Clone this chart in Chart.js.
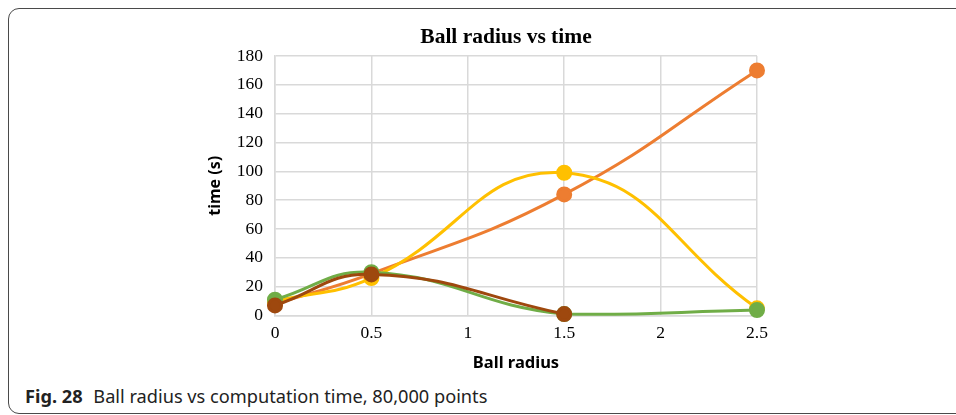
<!DOCTYPE html>
<html>
<head>
<meta charset="utf-8">
<script src="https://cdn.jsdelivr.net/npm/chart.js@4"></script>
<style>
    html, body { margin: 0; padding: 0; background: #fff; }
    body { width: 956px; height: 415px; position: relative; overflow: hidden; }
    #frame {
        position: absolute; left: 8px; top: 8px; width: 1000px; height: 404px;
        border: 1.3px solid #4a4a4a; border-radius: 11px;
    }
    #wrap { position: absolute; left: 0; top: 0; width: 956px; height: 380px; }
    #caption {
        position: absolute; left: 25px; top: 384px;
        font-family: "Noto Sans", sans-serif; font-size: 18.2px; color: #222;
        white-space: nowrap;
    }
    #caption b { margin-right: 6px; }
</style>
</head>
<body>
<div id="frame"></div>
<div id="wrap"><canvas id="ballChart"></canvas></div>
<div id="caption"><b>Fig. 28</b> Ball radius vs computation time, 80,000 points</div>
<script>
// Data
const radius = [0, 0.5, 1.5, 2.5];
const seriesOrange = [8, 29, 84, 170];
const seriesYellow = [10, 26, 99, 5];
const seriesGreen = [11, 30, 1, 3.8];
const seriesBrown = [7, 28.5, 1];
const xTicks = [0, 0.5, 1, 1.5, 2, 2.5];
const yTicks = [0, 20, 40, 60, 80, 100, 120, 140, 160, 180];
const chartTitle = 'Ball radius vs time';

function points(vals) {
    return vals.map((v, i) => ({ x: radius[i], y: v }));
}

function line(label, vals, color) {
    return {
        label: label,
        data: points(vals),
        borderColor: color,
        backgroundColor: color,
        borderWidth: 3,
        pointRadius: 6.5,
        pointHoverRadius: 6.5,
        tension: 0.45,
        clip: false
    };
}

const serif = 'Liberation Serif, Times New Roman, serif';
const sans = 'Noto Sans, Open Sans, sans-serif';

const ballChart = document.getElementById('ballChart');
const myBallChart = new Chart(ballChart, {
    type: 'line',
    data: {
        // first dataset ends up drawn on top
        datasets: [
            line('Series 4', seriesBrown, '#9E480E'),
            line('Series 3', seriesGreen, '#70AD47'),
            line('Series 2', seriesYellow, '#FFC000'),
            line('Series 1', seriesOrange, '#ED7D31')
        ]
    },
    plugins: [{
        // title sits a bit left of the plot centre, like the original
        id: 'offsetTitle',
        afterDraw: (chart) => {
            const ctx = chart.ctx;
            const area = chart.chartArea;
            ctx.save();
            ctx.font = 'bold 21.5px ' + serif;
            ctx.fillStyle = '#000';
            ctx.textAlign = 'center';
            ctx.textBaseline = 'middle';
            ctx.fillText(chartTitle, (area.left + area.right) / 2 - 10, area.top - 19);
            ctx.restore();
        }
    }],
    options: {
        responsive: true,
        maintainAspectRatio: false,
        animation: false,
        layout: {
            padding: { top: 56, left: 202, right: 199, bottom: 3 }
        },
        plugins: {
            legend: { display: false },
            tooltip: { enabled: false },
            title: { display: false }
        },
        scales: {
            x: {
                type: 'linear',
                min: 0,
                max: 2.5,
                afterBuildTicks: (scale) => {
                    scale.ticks = xTicks.map(v => ({ value: v }));
                },
                afterFit: (scale) => { scale.height = 61.5; },
                grid: { color: '#d9d9d9', lineWidth: 1.5, drawTicks: false },
                border: { color: '#d9d9d9', width: 1.5 },
                ticks: {
                    color: '#000',
                    padding: 7,
                    font: { family: serif, size: 17.5 },
                    callback: (v) => String(v)
                },
                title: {
                    display: true,
                    text: 'Ball radius',
                    color: '#000',
                    font: { family: sans, size: 16.5, weight: 'bold' },
                    padding: { top: 4, bottom: 4 }
                }
            },
            y: {
                min: 0,
                max: 180,
                afterBuildTicks: (scale) => {
                    scale.ticks = yTicks.map(v => ({ value: v }));
                },
                afterFit: (scale) => { scale.width = 73; },
                grid: { color: '#d9d9d9', lineWidth: 1.5, drawTicks: false },
                border: { color: '#d9d9d9', width: 1.5 },
                ticks: {
                    color: '#000',
                    padding: 12,
                    font: { family: serif, size: 17.5 }
                },
                title: {
                    display: true,
                    text: 'time (s)',
                    color: '#000',
                    font: { family: sans, size: 16, weight: 'bold' },
                    padding: { top: 4, bottom: 4 }
                }
            }
        }
    }
});
</script>
</body>
</html>
